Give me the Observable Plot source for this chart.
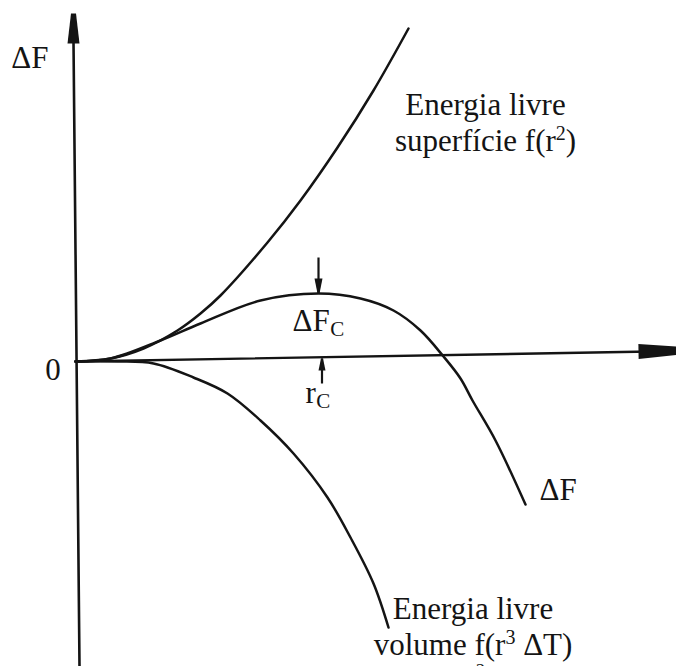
<!DOCTYPE html>
<html>
<head>
<meta charset="utf-8">
<script src="https://cdn.jsdelivr.net/npm/d3@7"></script>
<script src="https://cdn.jsdelivr.net/npm/@observablehq/plot@0.6"></script>
<style>
  html, body { margin: 0; padding: 0; background: #fff; overflow: hidden; }
</style>
</head>
<body>
<div id="chart"></div>
<script>
// ---- Data (r = radius, f = free energy, arbitrary units) ----
const surfaceR = [0, 3.5, 6.8, 10.2, 12.5, 14.5, 19.2, 22.5, 26.2, 29.8, 33.3];
const surfaceF = [0, 0.3, 1.3, 3.1, 4.8, 6.6, 11.9, 16.1, 21.4, 27.1, 33.3];

const totalR = [0, 3.5, 8.5, 12.5, 18.5, 24.3, 28.5, 31.8, 34.5, 36.8, 38.5, 39.7, 42.0, 45.0];
const totalF = [0, 0.3, 2.1, 3.8, 6.1, 6.8, 6.3, 5.1, 3.1, 0.5, -1.7, -3.9, -7.9, -14.3];

const volumeR = [0, 4.2, 7.8, 11.8, 15.2, 18.5, 21.8, 25.2, 27.5, 29.8, 31.3];
const volumeF = [0, 0, -0.2, -1.6, -3.2, -5.9, -9.2, -13.6, -17.6, -22.2, -26.6];

// axis lines (ends of the drawn axes) and arrow tips
const xAxisR = [0, 57.5];
const xAxisF = [0, 1.0];
const xAxisTip = {r: 61.5, f: 1.1};
const yAxisR = [0.4, -0.2];
const yAxisF = [-30.5, 32.0];
const yAxisTip = {r: -0.2, f: 34.8};

// critical point markers: ΔFc (arrow down onto the peak) and rc (arrow up onto the axis)
const criticalR = [24.3, 24.65];
const criticalFrom = [10.4, -2.2];
const criticalTo = [6.8, 0.3];

// text labels (the last "2" is the top of a line cut off by the picture's lower edge)
const labelTexts = ["ΔF", "0", "Energia livre\nsuperfície f(r²)", "ΔF", "Energia livre\nvolume f(r³ ΔT)", "2"];
const labelR = [-6.43, -2.25, 41.0, 46.4, 39.75, 40.5];
const labelF = [29.4, -1.8, 21.1, -13.8, -29.3, -31.5];
const labelAnchor = ["start", "middle", "middle", "start", "middle", "middle"];

const subMain = ["ΔF", "r"];
const subText = ["C", "C"];
const subR = [21.7, 23.0];
const subF = [3.1, -4.1];

// ---- Build tables ----
const toRows = (R, F) => R.map((r, i) => ({r, f: F[i]}));
const surface = toRows(surfaceR, surfaceF);
const total = toRows(totalR, totalF);
const volume = toRows(volumeR, volumeF);
const xAxis = toRows(xAxisR, xAxisF);
const yAxis = toRows(yAxisR, yAxisF);
const critical = criticalR.map((r, i) => ({r, from: criticalFrom[i], to: criticalTo[i]}));
const labels = labelTexts.map((t, i) => ({text: t, r: labelR[i], f: labelF[i], anchor: labelAnchor[i]}));

const INK = "#141414";
const FONT = "'Liberation Serif', 'Times New Roman', serif";
const FS = 31;
const SUBFS = 21;

// filled arrowhead symbol: tip at the dot position, pointing along angle (radians, screen space)
function head(angle, len, base, tip) {
  const c = Math.cos(angle), s = Math.sin(angle);
  const pts = [[0, -tip / 2], [0, tip / 2], [-len, base / 2], [-len, -base / 2]]
    .map(([x, y]) => [x * c - y * s, x * s + y * c]);
  return {
    draw(ctx) {
      ctx.moveTo(pts[0][0], pts[0][1]);
      for (let i = 1; i < pts.length; ++i) ctx.lineTo(pts[i][0], pts[i][1]);
      ctx.closePath();
    }
  };
}
const UP = -Math.PI / 2, DOWN = Math.PI / 2, RIGHT = -0.018;

// measure widths for subscript placement
const mctx = document.createElement("canvas").getContext("2d");
mctx.font = `${FS}px ${FONT}`;

const subMarks = subMain.flatMap((m, i) => {
  const row = [{r: subR[i], f: subF[i]}];
  const w = mctx.measureText(m).width;
  return [
    Plot.text(row, {x: "r", y: "f", text: () => m, textAnchor: "start", lineAnchor: "bottom",
      fontSize: FS, fill: INK}),
    Plot.text(row, {x: "r", y: "f", text: () => subText[i], textAnchor: "start", lineAnchor: "bottom",
      fontSize: SUBFS, fill: INK, dx: w + 0.5, dy: 5})
  ];
});

const chart = Plot.plot({
  width: 676,
  height: 666,
  margin: 0,
  x: {domain: [-7.5, 60.1], axis: null},
  y: {domain: [-30.5, 36.1], axis: null},
  style: {fontFamily: FONT, background: "#fff", color: INK},
  marks: [
    // axes
    Plot.line(yAxis, {x: "r", y: "f", stroke: INK, strokeWidth: 2.6}),
    Plot.line(xAxis, {x: "r", y: "f", stroke: INK, strokeWidth: 2.4}),
    Plot.dot([yAxisTip], {x: "r", y: "f", symbol: head(UP, 30, 12, 5), fill: INK, stroke: "none"}),
    Plot.dot([xAxisTip], {x: "r", y: "f", symbol: head(RIGHT, 52, 15, 6), fill: INK, stroke: "none"}),
    // curves
    Plot.line(surface, {x: "r", y: "f", curve: "catmull-rom", stroke: INK, strokeWidth: 2.5}),
    Plot.line(total, {x: "r", y: "f", curve: "catmull-rom", stroke: INK, strokeWidth: 2.5}),
    Plot.line(volume, {x: "r", y: "f", curve: "catmull-rom", stroke: INK, strokeWidth: 2.5}),
    // critical markers
    Plot.link(critical, {x1: "r", x2: "r", y1: "from", y2: "to", stroke: INK, strokeWidth: 2.2}),
    Plot.dot(critical.slice(0, 1), {x: "r", y: "to", symbol: head(DOWN, 15, 8, 2), fill: INK, stroke: "none"}),
    Plot.dot(critical.slice(1, 2), {x: "r", y: "to", symbol: head(UP, 12, 7, 2), fill: INK, stroke: "none"}),
    // labels
    ...labels.map(d => Plot.text([d], {
      x: "r", y: "f", text: "text", textAnchor: d.anchor, lineAnchor: "bottom",
      fontSize: d.text === "2" ? 19 : FS, lineHeight: 1.14, fill: INK
    })),
    ...subMarks
  ]
});

// render ² and ³ as real raised superscripts (text stays text)
const SUP = {"²": "2", "³": "3"};
chart.querySelectorAll("text, tspan").forEach(el => {
  if (el.childNodes.length !== 1 || el.firstChild.nodeType !== 3) return;
  const s = el.textContent;
  if (!/[²³]/.test(s)) return;
  el.textContent = "";
  const NS = "http://www.w3.org/2000/svg";
  let buf = "";
  let raised = false;
  for (const ch of s) {
    if (SUP[ch]) {
      if (buf) {
        const t = document.createElementNS(NS, "tspan");
        if (raised) { t.setAttribute("dy", "11"); raised = false; }
        t.textContent = buf; el.appendChild(t); buf = "";
      }
      const sp = document.createElementNS(NS, "tspan");
      sp.setAttribute("font-size", "20");
      sp.setAttribute("dy", "-11");
      sp.textContent = SUP[ch];
      el.appendChild(sp);
      raised = true;
    } else buf += ch;
  }
  if (buf) {
    const t = document.createElementNS(NS, "tspan");
    if (raised) t.setAttribute("dy", "11");
    t.textContent = buf; el.appendChild(t);
  }
});

document.getElementById("chart").appendChild(chart);
</script>
</body>
</html>
